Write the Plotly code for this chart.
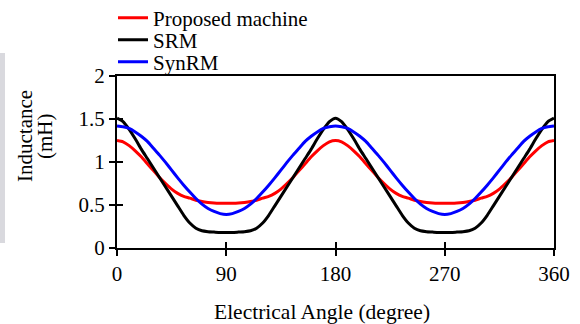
import plotly.graph_objects as go

angle = list(range(0, 365, 5))

proposed = [1.25, 1.235, 1.19, 1.13, 1.06, 0.98, 0.90, 0.82, 0.75, 0.685, 0.635, 0.60, 0.58, 0.555, 0.54, 0.53, 0.523, 0.52, 0.52,
            0.52, 0.523, 0.53, 0.54, 0.555, 0.58, 0.60, 0.635, 0.685, 0.75, 0.82, 0.90, 0.98, 1.06, 1.13, 1.19, 1.235, 1.25,
            1.235, 1.19, 1.13, 1.06, 0.98, 0.90, 0.82, 0.75, 0.685, 0.635, 0.60, 0.58, 0.555, 0.54, 0.53, 0.523, 0.52, 0.52,
            0.52, 0.523, 0.53, 0.54, 0.555, 0.58, 0.60, 0.635, 0.685, 0.75, 0.82, 0.90, 0.98, 1.06, 1.13, 1.19, 1.235, 1.25]

srm = [1.51, 1.47, 1.38, 1.27, 1.15, 1.04, 0.93, 0.82, 0.71, 0.60, 0.49, 0.38, 0.29, 0.23, 0.20, 0.19, 0.185, 0.18, 0.18,
       0.18, 0.185, 0.19, 0.20, 0.23, 0.29, 0.38, 0.49, 0.60, 0.71, 0.82, 0.93, 1.04, 1.15, 1.27, 1.38, 1.47, 1.51,
       1.47, 1.38, 1.27, 1.15, 1.04, 0.93, 0.82, 0.71, 0.60, 0.49, 0.38, 0.29, 0.23, 0.20, 0.19, 0.185, 0.18, 0.18,
       0.18, 0.185, 0.19, 0.20, 0.23, 0.29, 0.38, 0.49, 0.60, 0.71, 0.82, 0.93, 1.04, 1.15, 1.27, 1.38, 1.47, 1.51]

synrm = [1.42, 1.41, 1.39, 1.35, 1.30, 1.24, 1.16, 1.08, 0.995, 0.905, 0.815, 0.73, 0.65, 0.575, 0.51, 0.46, 0.425, 0.40, 0.39,
         0.40, 0.425, 0.46, 0.51, 0.575, 0.65, 0.73, 0.815, 0.905, 0.995, 1.08, 1.16, 1.24, 1.30, 1.35, 1.39, 1.41, 1.42,
         1.41, 1.39, 1.35, 1.30, 1.24, 1.16, 1.08, 0.995, 0.905, 0.815, 0.73, 0.65, 0.575, 0.51, 0.46, 0.425, 0.40, 0.39,
         0.40, 0.425, 0.46, 0.51, 0.575, 0.65, 0.73, 0.815, 0.905, 0.995, 1.08, 1.16, 1.24, 1.30, 1.35, 1.39, 1.41, 1.42]

x_ticks = [0, 90, 180, 270, 360]
y_ticks = [0, 0.5, 1, 1.5, 2]

FONT = "Liberation Serif, Times New Roman, serif"
FS = 21
W, H = 580, 324
L, R, T, B = 117, 26, 76, 76
PW, PH = W - L - R, H - T - B

def px(xp):
    return (xp - L) / PW

def py(yp):
    return (H - B - yp) / PH

fig = go.Figure()
series = [("Proposed machine", proposed, "#ff0000", "legend"),
          ("SRM", srm, "#000000", "legend2"),
          ("SynRM", synrm, "#0000ff", "legend3")]
for name, vals, col, lg in series:
    fig.add_trace(go.Scatter(x=angle, y=vals, mode="lines", name=name,
                             line=dict(color=col, width=3, shape="spline", smoothing=0.6),
                             legend=lg))

axis_common = dict(showgrid=False, zeroline=False, linecolor="black", linewidth=2,
                   tickcolor="black", tickwidth=2, ticklen=6,
                   tickfont=dict(family=FONT, size=FS, color="black"))

legend_common = dict(font=dict(family=FONT, size=FS, color="black"), bgcolor="rgba(0,0,0,0)",
                     xanchor="left", yanchor="middle", tracegroupgap=0, itemwidth=30)

fig.update_layout(
    width=W, height=H,
    margin=dict(l=L, r=R, t=T, b=B, autoexpand=False),
    paper_bgcolor="white", plot_bgcolor="white",
    font=dict(family=FONT, size=FS, color="black"),
    xaxis=dict(range=[0, 360], tickvals=x_ticks, ticks="outside", mirror=True, showline=True,
               **axis_common),
    yaxis=dict(range=[0, 2], tickvals=y_ticks, ticktext=["0", "0.5", "1", "1.5", "2"],
               ticks="outside", mirror=True, showline=True, **axis_common),
    xaxis2=dict(range=[0, 360], tickvals=x_ticks, ticks="inside", overlaying="x", anchor="y",
                showticklabels=False, showline=False, showgrid=False, zeroline=False,
                tickcolor="black", tickwidth=2, ticklen=6),
    yaxis2=dict(range=[0, 2], tickvals=y_ticks, ticks="inside", overlaying="y", anchor="x", side="left",
                showticklabels=False, showline=False, showgrid=False, zeroline=False,
                tickcolor="black", tickwidth=2, ticklen=6),
    legend=dict(x=px(113), y=py(18), **legend_common),
    legend2=dict(x=px(113), y=py(40), **legend_common),
    legend3=dict(x=px(113), y=py(62), **legend_common),
    showlegend=True,
)

fig.add_trace(go.Scatter(x=[], y=[], xaxis="x2", yaxis="y2", showlegend=False, hoverinfo="skip"))

fig.add_annotation(text="Electrical Angle (degree)", xref="paper", yref="paper", x=px(321.5), y=py(312),
                   showarrow=False, font=dict(family=FONT, size=FS + 0.5, color="black"),
                   xanchor="center", yanchor="middle")
fig.add_annotation(text="Inductance", xref="paper", yref="paper", x=px(25), y=py(136),
                   textangle=-90, showarrow=False, font=dict(family=FONT, size=FS, color="black"),
                   xanchor="center", yanchor="middle")
fig.add_annotation(text="(mH)", xref="paper", yref="paper", x=px(45), y=py(136),
                   textangle=-90, showarrow=False, font=dict(family=FONT, size=FS, color="black"),
                   xanchor="center", yanchor="middle")

fig.add_shape(type="rect", xref="paper", yref="paper", x0=px(0), x1=px(5), y0=py(243), y1=py(53),
              fillcolor="#d9d9de", line=dict(width=0), layer="below")

fig.write_html("out.html")
